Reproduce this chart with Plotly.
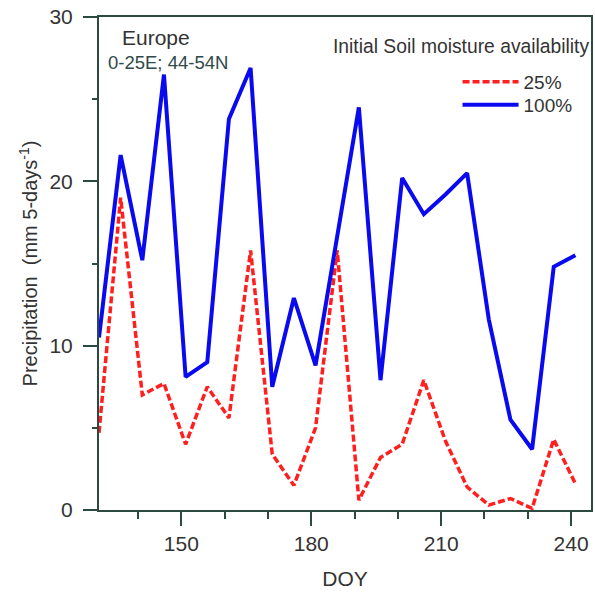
import plotly.graph_objects as go

# Day of year (pentad steps) and 5-day precipitation totals for two initial soil-moisture runs
doy = [131, 136, 141, 146, 151, 156, 161, 166, 171, 176, 181, 186,
       191, 196, 201, 206, 211, 216, 221, 226, 231, 236, 241]
precip_25 = [4.7, 19.0, 7.0, 7.7, 4.0, 7.5, 5.6, 15.8, 3.4, 1.5, 5.0, 15.8,
             0.6, 3.2, 4.0, 7.9, 4.2, 1.4, 0.3, 0.7, 0.1, 4.3, 1.6]
precip_100 = [10.5, 21.6, 15.2, 26.5, 8.1, 9.0, 23.8, 26.9, 7.5, 12.9, 8.8, 16.7,
              24.5, 7.9, 20.2, 18.0, 19.2, 20.5, 11.6, 5.5, 3.7, 14.8, 15.5]
series_names = ["25%", "100%"]

AXIS_COLOR = "#2c4a40"
TEXT_COLOR = "#333333"
FONT = "Liberation Sans, Arial, sans-serif"

W, H = 595, 594
L, R, T, B = 99, 2, 17, 84


def px_x(px):
    return (px - L) / (W - L - R)


def px_y(px):
    return 1 - (px - T) / (H - T - B)


fig = go.Figure()
fig.add_trace(go.Scatter(
    x=doy, y=precip_25, mode="lines", name=series_names[0], legend="legend",
    line=dict(color="#ff1f1f", width=3.5, dash="7px,3px"),
))
fig.add_trace(go.Scatter(
    x=doy, y=precip_100, mode="lines", name=series_names[1], legend="legend2",
    line=dict(color="#0a0af0", width=4),
))

common_axis = dict(
    showline=True, linewidth=2, linecolor=AXIS_COLOR, mirror=True,
    showgrid=False, zeroline=False,
    ticks="outside", tickwidth=2, tickcolor=AXIS_COLOR,
    tickfont=dict(size=21, color=TEXT_COLOR, family=FONT),
)

fig.update_xaxes(
    range=[131, 244.6], tick0=0, dtick=30, ticklen=14,
    minor=dict(dtick=10, tick0=0, ticks="outside", ticklen=7, tickwidth=2, tickcolor=AXIS_COLOR),
    title=dict(text="DOY", font=dict(size=21, color=TEXT_COLOR, family=FONT), standoff=17),
    **common_axis,
)
fig.update_yaxes(
    range=[0, 30], tick0=0, dtick=10, ticklen=14, ticklabelstandoff=6,
    minor=dict(dtick=5, tick0=0, ticks="outside", ticklen=5, tickwidth=2, tickcolor=AXIS_COLOR),
    title=dict(text="Precipitation  (mm 5-days<sup>-1</sup>)",
               font=dict(size=20, color=TEXT_COLOR, family=FONT), standoff=6),
    **common_axis,
)

annotations = [
    dict(text="Europe", x=120, y=37, size=21, color=TEXT_COLOR),
    dict(text="0-25E; 44-54N", x=106, y=62, size=18.5, color="#2f4a48"),
    dict(text="Initial Soil moisture availability", x=332, y=47, size=19.3, color=TEXT_COLOR),
]
for a in annotations:
    fig.add_annotation(
        text=a["text"], xref="paper", yref="paper",
        x=px_x(a["x"]), y=px_y(a["y"]),
        xanchor="left", yanchor="middle", showarrow=False,
        font=dict(size=a["size"], color=a["color"], family=FONT),
    )

legend_style = dict(
    xanchor="left", yanchor="middle",
    bgcolor="rgba(0,0,0,0)", borderwidth=0,
    font=dict(size=19, color=TEXT_COLOR, family=FONT),
    itemwidth=56,
)

fig.update_layout(
    width=W, height=H,
    margin=dict(l=L, r=R, t=T, b=B),
    paper_bgcolor="white", plot_bgcolor="white",
    font=dict(family=FONT, color=TEXT_COLOR),
    showlegend=True,
    legend=dict(x=px_x(459), y=px_y(82), **legend_style),
    legend2=dict(x=px_x(459), y=px_y(105), **legend_style),
)

fig.write_html("out.html")
